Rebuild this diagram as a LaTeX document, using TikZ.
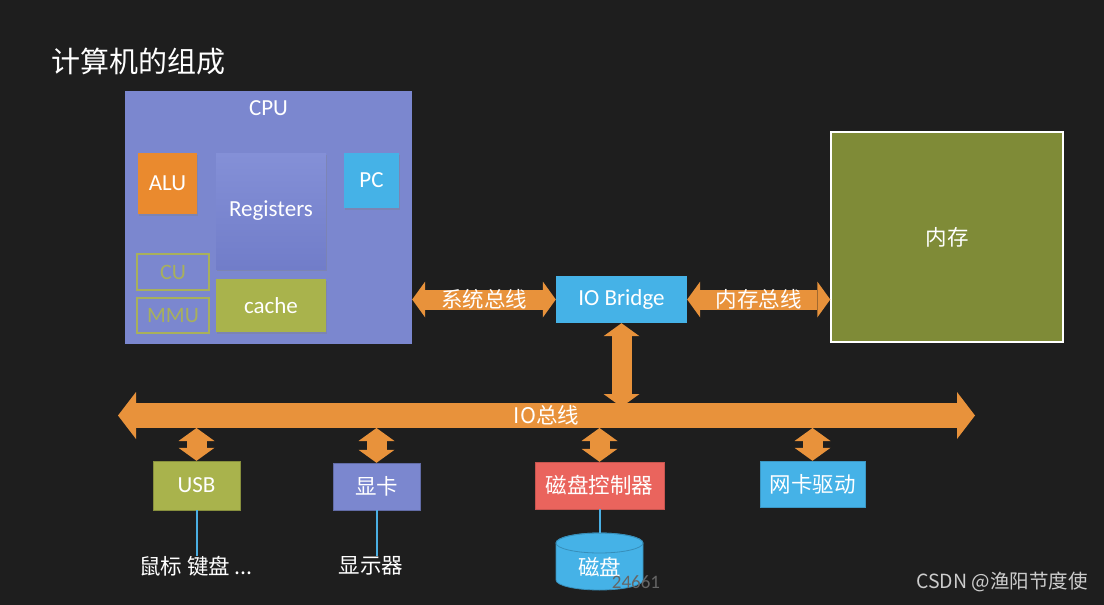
\documentclass[tikz,border=0pt]{standalone}
\usepackage{fontspec}
\setmainfont{Carlito}
\newfontfamily\cjk{Noto Sans CJK SC}
\usepackage{tikz}
\usetikzlibrary{arrows.meta, shadows}

\definecolor{board}{HTML}{1E1E1E}
\definecolor{cpublue}{HTML}{7B87CF}
\definecolor{regtop}{HTML}{8490D7}
\definecolor{regbot}{HTML}{717DC9}
\definecolor{aluorange}{HTML}{EA8A2E}
\definecolor{skyblue}{HTML}{45B2E7}
\definecolor{cacheolive}{HTML}{A9B34C}
\definecolor{cuolive}{HTML}{A8B05C}
\definecolor{memolive}{HTML}{7F8B37}
\definecolor{diskred}{HTML}{EA645D}
\definecolor{busorange}{HTML}{E8923B}
\definecolor{wirecol}{HTML}{4AAFE3}

\begin{document}
\begin{tikzpicture}[x=1pt, y=-1pt,
    txt/.style={text=white, inner sep=0pt, font=\fontsize{23}{26}\selectfont},
    cjktxt/.style={text=white, inner sep=0pt, font=\cjk\fontsize{21.5}{24}\selectfont},
    unit/.style={rectangle, inner sep=0pt, drop shadow={opacity=0.35, shadow xshift=1pt, shadow yshift=-1.5pt}},
    part/.style={rectangle, inner sep=0pt},
    outline/.style={rectangle, inner sep=0pt, draw=cuolive, line width=1.1pt, text=cuolive, font=\fontsize{22}{24}\selectfont},
    bus/.style={draw=busorange, line width=20pt,
      {Triangle[length=13pt, width=36pt, line width=0pt]}-{Triangle[length=13pt, width=36pt, line width=0pt]}},
    iobus/.style={draw=busorange, line width=25pt,
      {Triangle[length=18pt, width=47pt, line width=0pt]}-{Triangle[length=18pt, width=47pt, line width=0pt]}},
    wire/.style={draw=wirecol, line width=2pt}]

  % board
  \fill[board] (0,0) rectangle (1104,605);
  \node[text=white, inner sep=0pt, anchor=west, font=\cjk\fontsize{29}{32}\selectfont] (title) at (51,62) {计算机的组成};

  % CPU
  \node[part, fill=cpublue, minimum width=287pt, minimum height=253pt] (cpu) at (268.5,217.5) {};
  \node[txt] (cpuname) at (cpu.north) [yshift=-17pt] {CPU};
  \node[unit, txt, fill=aluorange, minimum width=59pt, minimum height=61pt] (alu) at (167.5,183.5) {ALU};
  \node[unit, txt, top color=regtop, bottom color=regbot, minimum width=110pt, minimum height=116pt] (reg) at (271,211) {Registers};
  \node[unit, txt, fill=skyblue, minimum width=55pt, minimum height=55pt] (pc) at (371.5,180.5) {PC};
  \node[outline, minimum width=72pt, minimum height=36pt] (cu) at (173,272) {CU};
  \node[outline, minimum width=72pt, minimum height=35pt] (mmu) at (173,315.5) {MMU};
  \node[unit, txt, fill=cacheolive, minimum width=110pt, minimum height=53pt] (cache) at (271,305.5) {cache};

  % bridge and memory
  \node[part, txt, fill=skyblue, minimum width=131pt, minimum height=47pt] (bridge) at (621.5,299.5) {IO Bridge};
  \node[part, cjktxt, fill=memolive, draw=white, line width=1.5pt, minimum width=232pt, minimum height=210pt] (mem) at (947,237) {内存};

  % devices
  \node[part, txt, fill=cacheolive, draw=cacheolive!80!black, minimum width=87pt, minimum height=49pt] (usb) at (196.5,485.5) {USB};
  \node[part, cjktxt, fill=cpublue, draw=cpublue!80!black, minimum width=87pt, minimum height=47pt] (gpu) at (376.5,486.5) {显卡};
  \node[part, cjktxt, fill=diskred, draw=diskred!85!black, minimum width=129pt, minimum height=47pt] (diskctl) at (599.5,485.5) {磁盘控制器};
  \node[part, cjktxt, fill=skyblue, draw=skyblue!85!black, minimum width=105pt, minimum height=46pt] (nic) at (812.5,484) {网卡驱动};

  \node[cjktxt] (mouse) at (196,566) {鼠标 键盘 ...};
  \node[cjktxt] (display) at (371,566) {显示器};

  % disk drum
  \filldraw[fill=skyblue, draw=skyblue!80!black, line width=0.8pt]
    (556,543) -- (556,580) arc[start angle=180, end angle=360, x radius=43.5pt, y radius=10pt]
    -- (643,543) arc[start angle=0, end angle=180, x radius=43.5pt, y radius=10pt] -- cycle;
  \draw[skyblue!80!black, line width=0.8pt] (599.5,543) ellipse [x radius=43.5pt, y radius=10pt];
  \coordinate (disktop) at (599.5,533);
  \node[cjktxt] (disk) at (599.5,567) {磁盘};

  % bus ends
  \coordinate (busleft) at (118,415.5);
  \coordinate (busright) at (975,415.5);
  \coordinate (bustop) at (0,407);
  \coordinate (busbottom) at (0,428);

  % buses
  \draw[bus] (cpu.east |- bridge.west) -- (bridge.west) node[midway, cjktxt] {系统总线};
  \draw[bus] (bridge.east) -- (mem.west |- bridge.east) node[midway, cjktxt] {内存总线};
  \draw[bus] (bridge.south) -- (bridge.south |- bustop);
  \draw[iobus] (busleft) -- (busright) node[midway, cjktxt] {IO总线};
  \foreach \dev in {usb, gpu, diskctl, nic}
    \draw[bus] (\dev.north |- busbottom) -- (\dev.north);

  % wires
  \draw[wire] (usb.south) -- (usb.south |- mouse.north);
  \draw[wire] (gpu.south) -- (gpu.south |- display.north);
  \draw[wire] (diskctl.south) -- (disktop);

  % marks
  \node[text=black!60, inner sep=0pt, font=\fontsize{19}{20}\selectfont] (mark) at (636,582) {24661};
  \node[text=black!20, inner sep=0pt, anchor=east, font=\cjk\fontsize{19.5}{20}\selectfont] (csdn) at (1088,582) {CSDN @渔阳节度使};
\end{tikzpicture}
\end{document}
